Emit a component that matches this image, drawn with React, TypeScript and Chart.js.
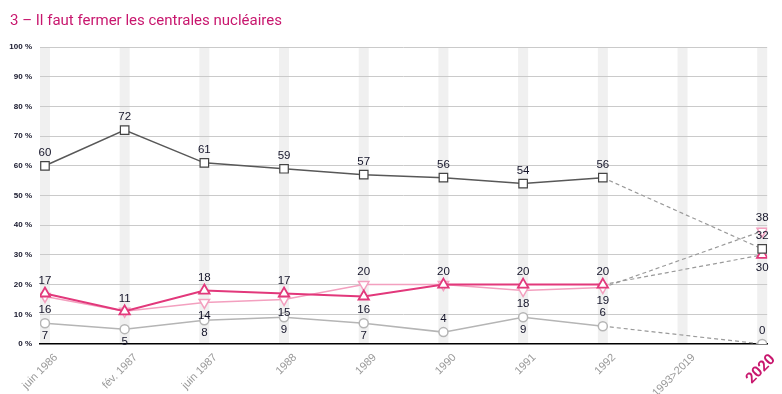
import React, { useEffect, useRef } from "react";
import { Chart, registerables } from "chart.js";

Chart.register(...registerables);

const TITLE = "3 – Il faut fermer les centrales nucléaires";
const categories = ["juin 1986", "fév. 1987", "juin 1987", "1988", "1989", "1990", "1991", "1992", "1993>2019", "2020"];
const yTicks = [0, 10, 20, 30, 40, 50, 60, 70, 80, 90, 100];

const seriesSquare = [60, 72, 61, 59, 57, 56, 54, 56, null, 32];
const seriesUp = [17, 11, 18, 17, 16, 20, 20, 20, null, 30];
const seriesDown = [16, 11, 14, 15, 20, 20, 18, 19, null, 38];
const seriesCircle = [7, 5, 8, 9, 7, 4, 9, 6, null, 0];

// label placement: a = above, b = below, "" = none
const posSquare = ["a", "a", "a", "a", "a", "a", "a", "a", "", "a"];
const posUp = ["a", "a", "a", "a", "b", "a", "a", "a", "", "b"];
const posDown = ["b", "", "b", "b", "a", "", "b", "b", "", "a"];
const posCircle = ["b", "b", "b", "b", "b", "a", "b", "a", "", "a"];

const MAGENTA = "#c8176e";

export default function App() {
  const ref = useRef<HTMLCanvasElement>(null);

  useEffect(() => {
    document.body.style.margin = "0";
    const canvas = ref.current;
    if (!canvas) return;

    const toPts = (arr: (number | null)[]) => arr.map((v, i) => ({ x: i, y: v }));

    const dashed = (color: string) => ({
      borderColor: (ctx: any) => (ctx.p0DataIndex >= 7 ? "#9a9a9a" : color),
      borderDash: (ctx: any) => (ctx.p0DataIndex >= 7 ? [4, 3] : undefined),
      borderWidth: (ctx: any) => (ctx.p0DataIndex >= 7 ? 1.2 : undefined),
    });

    const bandsPlugin = {
      id: "bands",
      beforeDraw(chart: any) {
        const { ctx, chartArea, scales } = chart;
        ctx.save();
        ctx.fillStyle = "#f0f0f0";
        categories.forEach((_, i) => {
          const x = scales.x.getPixelForValue(i);
          ctx.fillRect(x - 5, chartArea.top + 1, 10, chartArea.bottom - chartArea.top - 1);
        });
        ctx.restore();
      },
    };

    const titlePlugin = {
      id: "ttl",
      afterDraw(chart: any) {
        const ctx = chart.ctx;
        ctx.save();
        ctx.fillStyle = MAGENTA;
        ctx.font = "15px Roboto";
        ctx.textBaseline = "alphabetic";
        ctx.textAlign = "left";
        ctx.fillText(TITLE, 10, 25);
        ctx.restore();
      },
    };

    const posLists = [posSquare, posUp, posDown, posCircle];
    const labelsPlugin = {
      id: "vals",
      afterDatasetsDraw(chart: any) {
        const ctx = chart.ctx;
        ctx.save();
        ctx.font = "11.5px 'Liberation Sans', Arial, sans-serif";
        ctx.fillStyle = "#15152a";
        ctx.textAlign = "center";
        ctx.textBaseline = "middle";
        chart.data.datasets.forEach((ds: any, di: number) => {
          const meta = chart.getDatasetMeta(di);
          meta.data.forEach((pt: any, i: number) => {
            const p = posLists[di][i];
            const v = ds.data[i].y;
            if (!p || v === null) return;
            const y = p === "a" ? pt.y - 13 : pt.y + 13;
            ctx.fillText(String(v), pt.x, y);
          });
        });
        ctx.restore();
      },
    };

    const chart = new Chart(canvas, {
      type: "line",
      data: {
        datasets: [
          {
            data: toPts(seriesSquare),
            borderColor: "#585858",
            backgroundColor: "#ffffff",
            borderWidth: 1.5,
            pointStyle: "rect",
            pointRadius: 6,
            pointBorderWidth: 1.2,
            pointBorderColor: "#444",
            spanGaps: true,
            order: 1,
            segment: dashed("#585858"),
          },
          {
            data: toPts(seriesUp),
            borderColor: "#e2387b",
            backgroundColor: "#ffffff",
            borderWidth: 2,
            pointStyle: "triangle",
            pointRadius: 6,
            pointBorderWidth: 1.8,
            spanGaps: true,
            order: 2,
            segment: dashed("#e2387b"),
          },
          {
            data: toPts(seriesDown),
            borderColor: "#f3a0bf",
            backgroundColor: "#ffffff",
            borderWidth: 1.5,
            pointStyle: "triangle",
            pointRotation: 180,
            pointRadius: 6,
            pointBorderWidth: 1.5,
            spanGaps: true,
            order: 3,
            segment: dashed("#f3a0bf"),
          },
          {
            data: toPts(seriesCircle),
            borderColor: "#b5b5b5",
            backgroundColor: "#ffffff",
            borderWidth: 1.5,
            pointStyle: "circle",
            pointRadius: 4.5,
            pointBorderWidth: 1.5,
            spanGaps: true,
            order: 4,
            segment: dashed("#b5b5b5"),
          },
        ],
      },
      options: {
        responsive: false,
        animation: false,
        layout: { padding: { top: 47, right: 10, left: 0, bottom: 0 } },
        plugins: { legend: { display: false }, tooltip: { enabled: false }, title: { display: false } },
        scales: {
          x: {
            type: "linear",
            min: -0.0623,
            max: 9.0623,
            afterBuildTicks: (scale: any) => {
              scale.ticks = categories.map((_, i) => ({ value: i }));
            },
            afterFit: (scale: any) => {
              scale.height = 50;
            },
            grid: { display: false, drawTicks: false },
            border: { display: true, color: "#000", width: 1.5 },
            ticks: {
              autoSkip: false,
              minRotation: 45,
              maxRotation: 45,
              padding: 7,
              labelOffset: 11,
              callback: (v: any) => categories[v as number],
              color: (ctx: any) => (ctx.index === 9 ? MAGENTA : "#9a9a9a"),
              font: (ctx: any) =>
                ctx.index === 9
                  ? { family: "Roboto", size: 15, weight: "bold" }
                  : { family: "'Liberation Sans', Arial, sans-serif", size: 11 },
            },
          },
          y: {
            min: 0,
            max: 100,
            afterBuildTicks: (scale: any) => {
              scale.ticks = yTicks.map((v) => ({ value: v }));
            },
            afterFit: (scale: any) => {
              scale.width = 40;
            },
            border: { display: false },
            grid: {
              drawTicks: false,
              color: (ctx: any) => (ctx.tick && ctx.tick.value === 0 ? "rgba(0,0,0,0)" : "#cacaca"),
              lineWidth: 1,
            },
            ticks: {
              padding: 8,
              color: "#15152a",
              font: { family: "'Liberation Sans', Arial, sans-serif", size: 8, weight: "bold" },
              callback: (v: any) => `${v} %`,
            },
          },
        },
      },
      plugins: [bandsPlugin, labelsPlugin, titlePlugin],
    } as any);

    return () => chart.destroy();
  }, []);

  return (
    <div style={{ width: 782, height: 394 }}>
      <canvas ref={ref} width={782} height={394} />
    </div>
  );
}
